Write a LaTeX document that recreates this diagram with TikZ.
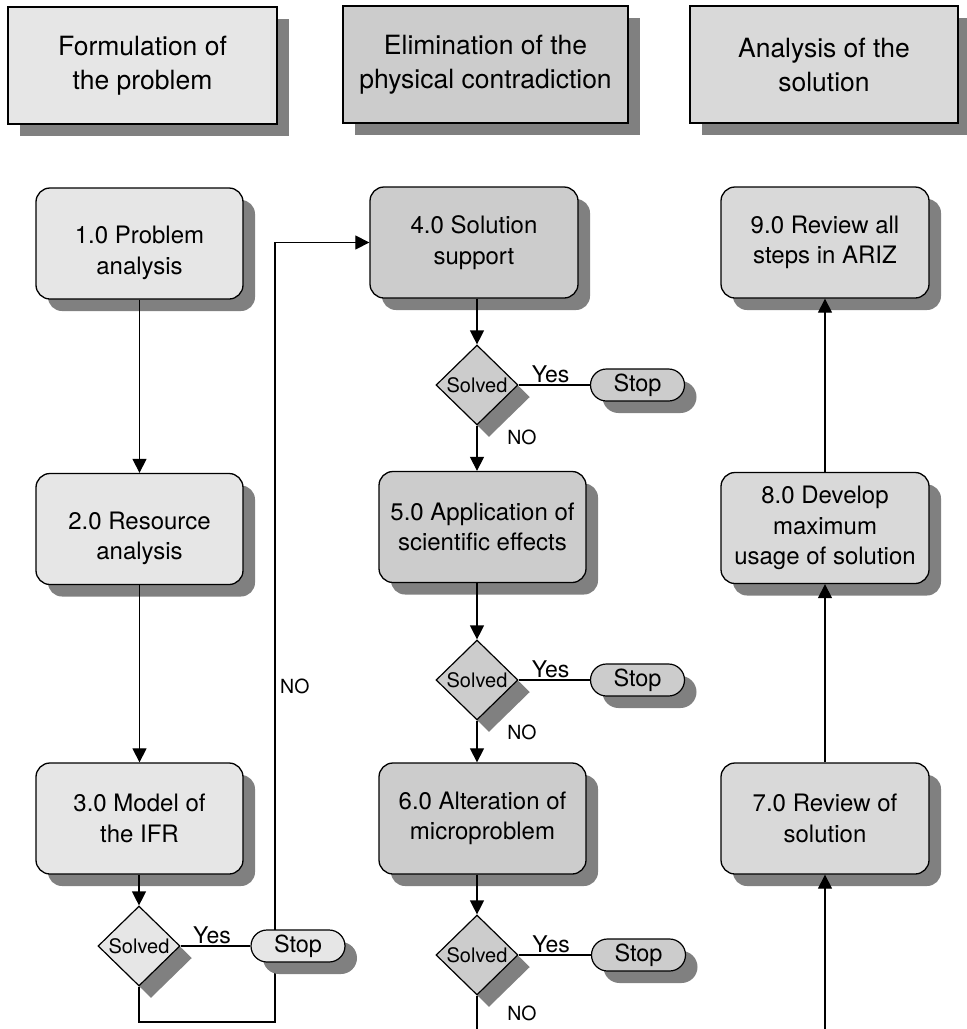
\documentclass[tikz,border=0pt]{standalone}
\usepackage{fontspec}
\setmainfont{TeX Gyre Heros}
\usetikzlibrary{shapes.geometric,shapes.misc,shadows,arrows.meta}

\definecolor{fillA}{HTML}{E6E6E6}
\definecolor{fillB}{HTML}{CCCCCC}
\definecolor{fillC}{HTML}{D9D9D9}
\definecolor{shade}{HTML}{808080}

% a taller first line pushes the text block a little below the box centre
\newcommand{\lowerstart}{\rule{0pt}{36pt}}

\tikzset{
  shadowed/.style={drop shadow={shadow xshift=12pt,shadow yshift=-12pt,fill=shade,opacity=1}},
  header/.style={draw, line width=1.3pt, shadowed, minimum height=117pt, inner sep=0pt,
    align=center, font=\fontsize{26.5}{34}\selectfont},
  stepbox/.style={draw, line width=1.3pt, rounded corners=14pt, shadowed, minimum width=207pt,
    minimum height=111pt, inner sep=0pt, align=center, font=\fontsize{24}{30.5}\selectfont},
  decision/.style={diamond, draw, line width=1.2pt, shadowed, minimum width=82pt,
    minimum height=80pt, inner sep=0pt,
    label={[font=\fontsize{20}{24}\selectfont, inner sep=0pt]center:Solved}},
  stopnode/.style={rounded rectangle, draw, line width=1.2pt, shadowed, minimum width=94pt,
    minimum height=32pt, inner sep=0pt, font=\fontsize{23.5}{28}\selectfont},
  conn/.style={line width=1.2pt},
  arr/.style={conn, -{Triangle[width=14pt,length=14pt]}},
  yeslabel/.style={font=\fontsize{23}{27}\selectfont, inner sep=1.5pt, above},
  nolabel/.style={font=\fontsize{19.5}{23}\selectfont, inner sep=0pt},
}

\begin{document}
\begin{tikzpicture}[x=1pt,y=-1pt]
\useasboundingbox (0,0) rectangle (967,1029);

% phase headers
\node[header, fill=fillA, minimum width=269pt] (h1) at (142.5,65.5) {Formulation of\\the problem};
\node[header, fill=fillB, minimum width=285pt] (h2) at (485.5,64.5) {Elimination of the\\physical contradiction};
\node[header, fill=fillC, minimum width=268pt] (h3) at (824,64.5) {Analysis of the\\solution};

% column 1: formulation
\node[stepbox, fill=fillA] (b1) at (139.5,243.5) {\lowerstart 1.0 Problem\\analysis};
\node[stepbox, fill=fillA] (b2) at (139.5,529) {\lowerstart 2.0 Resource\\analysis};
\node[stepbox, fill=fillA] (b3) at (139.5,818.5) {3.0 Model of\\the IFR};
\node[decision, fill=fillA] (d1) at (139,946) {};

% column 2: elimination
\node[stepbox, fill=fillB, minimum width=208pt] (b4) at (474,242.5) {4.0 Solution\\support};
\node[stepbox, fill=fillB] (b5) at (482.5,527) {5.0 Application of\\scientific effects};
\node[stepbox, fill=fillB] (b6) at (482.5,818.5) {6.0 Alteration of\\microproblem};
\node[decision, fill=fillB] (da) at (477,385) {};
\node[decision, fill=fillB] (db) at (477,680) {};
\node[decision, fill=fillB] (dc) at (477,955) {};

% column 3: analysis
\node[stepbox, fill=fillC, minimum width=208pt] (b9) at (825,242.5) {9.0 Review all\\steps in ARIZ};
\node[stepbox, fill=fillC, minimum width=208pt] (b8) at (825,528) {8.0 Develop\\maximum\\usage of solution};
\node[stepbox, fill=fillC, minimum width=208pt] (b7) at (825,818.5) {7.0 Review of\\solution};

% loop back from the first decision to step 4.0
\coordinate (loopc) at (275,1022);
\draw[arr] (d1.south) |- (loopc) |- (b4.west);
\node[nolabel, anchor=west] (no0) at (280,686) {NO};

% stop terminals
\node[stopnode, fill=fillA] (s1) at (298,946) {Stop};
\node[stopnode, fill=fillB] (sa) at (637.5,385) {Stop};
\node[stopnode, fill=fillB] (sb) at (637.5,680) {Stop};
\node[stopnode, fill=fillB] (sc) at (638.5,955) {Stop};

% column 1 flow
\draw[arr] (b1.south) -- (b2.north);
\draw[arr] (b2.south) -- (b3.north);
\draw[arr] (d1.north |- b3.south) -- (d1.north);
\draw[conn] (d1.east) -- node[yeslabel, pos=0.45] (y1) {Yes} (s1.west);

% column 2 flow
\draw[arr] (da.north |- b4.south) -- (da.north);
\draw[conn] (da.east) -- node[yeslabel, pos=0.45] (ya) {Yes} (sa.west);
\draw[arr] (da.south) -- (da.south |- b5.north);
\node[nolabel] (noa) at ([xshift=45pt,yshift=-12pt]da.south) {NO};
\draw[arr] (db.north |- b5.south) -- (db.north);
\draw[conn] (db.east) -- node[yeslabel, pos=0.45] (yb) {Yes} (sb.west);
\draw[arr] (db.south) -- (db.south |- b6.north);
\node[nolabel] (nob) at ([xshift=45pt,yshift=-12pt]db.south) {NO};
\draw[arr] (dc.north |- b6.south) -- (dc.north);
\draw[conn] (dc.east) -- node[yeslabel, pos=0.45] (yc) {Yes} (sc.west);
\coordinate (end2) at (477,1029);
\draw[conn] (dc.south) -- (end2);
\node[nolabel] (noc) at ([xshift=45pt,yshift=-18pt]dc.south) {NO};

% column 3 flow
\coordinate (start3) at (825,1029);
\draw[arr] (start3) -- (b7.south);
\draw[arr] (b7.north) -- (b8.south);
\draw[arr] (b8.north) -- (b9.south);
\end{tikzpicture}
\end{document}
